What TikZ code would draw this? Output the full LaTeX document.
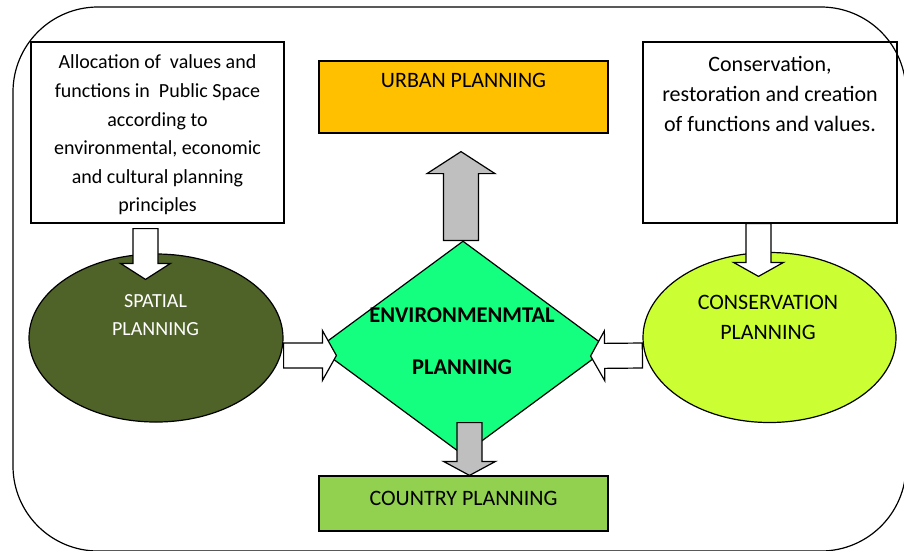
\documentclass[tikz,border=0pt]{standalone}
\usepackage{fontspec}
\setmainfont{Carlito}
\usetikzlibrary{calc,shapes.geometric}
\definecolor{urbanorange}{HTML}{FFC000}
\definecolor{countrygreen}{HTML}{92D050}
\definecolor{spatialolive}{HTML}{4F6228}
\definecolor{conslime}{HTML}{CCFF33}
\definecolor{envgreen}{HTML}{14FF80}
\definecolor{arrowgray}{HTML}{BFBFBF}
\begin{document}
\begin{tikzpicture}[x=1pt,y=-1pt,
  every node/.style={font=\fontsize{22}{30}\selectfont, inner sep=0pt},
  box/.style={draw, line width=1.2pt, rectangle},
  blob/.style={draw, line width=1.2pt, ellipse},
  bshaft/.store in=\bshaft, bhead/.store in=\bhead, blen/.store in=\blen,
  bshaft=12.5pt, bhead=25pt, blen=14pt,
  fatarrow/.style={line width=1.2pt, to path={
    ($(\tikztostart)!\bshaft!90:(\tikztotarget)$)
    -- ($($(\tikztotarget)!\blen!(\tikztostart)$)!\bshaft!-90:(\tikztostart)$)
    -- ($($(\tikztotarget)!\blen!(\tikztostart)$)!\bhead!-90:(\tikztostart)$)
    -- (\tikztotarget)
    -- ($($(\tikztotarget)!\blen!(\tikztostart)$)!\bhead!90:(\tikztostart)$)
    -- ($($(\tikztotarget)!\blen!(\tikztostart)$)!\bshaft!90:(\tikztostart)$)
    -- ($(\tikztostart)!\bshaft!-90:(\tikztotarget)$) -- cycle}}]
  \useasboundingbox (0,0) rectangle (904,550);
  \draw[line width=1.2pt, rounded corners=85pt] (13,7) rectangle (906,551);

  \node[box, minimum width=253pt, minimum height=181pt] (alloc) at (157.5,132.5) {};
  \node[align=center, font=\fontsize{20}{28.6}\selectfont] (alloctext) at (157.5,135)
    {Allocation of\ \ values and\\functions in\ \ Public Space\\according to\\environmental, economic\\and cultural planning\\principles};
  \node[box, minimum width=254pt, minimum height=181pt] (consbox) at (770,132.5) {};
  \node[align=center] (consboxtext) at (770,93.5)
    {Conservation,\\restoration and creation\\of functions and values.};

  \node[box, fill=urbanorange, minimum width=289pt, minimum height=72pt] (urban) at (463.5,97) {};
  \node (urbantext) at (463.5,80.5) {URBAN PLANNING};
  \node[box, fill=countrygreen, minimum width=289pt, minimum height=55pt] (country) at (463.5,503.5) {};
  \node (countrytext) at (463.5,498) {COUNTRY PLANNING};

  \node[blob, fill=spatialolive, minimum width=254pt, minimum height=168pt] (spatial) at (156,338) {};
  \node[align=center, text=white, font=\fontsize{20}{28}\selectfont] (spatialtext) at (155.5,315) {SPATIAL\\PLANNING};
  \node[blob, fill=conslime, minimum width=253pt, minimum height=170pt] (cons) at (769.5,337.5) {};
  \node[align=center] (constext) at (768,317) {CONSERVATION\\PLANNING};

  \node[diamond, draw, line width=1.2pt, fill=envgreen, minimum width=290pt, minimum height=214pt] (env) at (463,348) {};
  \node[align=center, font=\bfseries\fontsize{22.5}{30}\selectfont] (envtext) at (462,341) {ENVIRONMENMTAL\\[22pt]PLANNING};

  \filldraw[fatarrow, fill=white, blen=16pt] ([shift={(-12pt,-5pt)}]alloc.south) to ([shift={(-10.5pt,-26pt)}]spatial.north);
  \filldraw[fatarrow, fill=white] ([xshift=-11.5pt]consbox.south) to ([shift={(-11pt,-24.5pt)}]cons.north);
  \filldraw[fatarrow, fill=white] ([yshift=-17.5pt]spatial.east) to ([shift={(19pt,-7.5pt)}]env.west);
  \filldraw[fatarrow, fill=white] ([yshift=-18pt]cons.west) to ([shift={(-18pt,-8pt)}]env.east);
  \filldraw[fatarrow, fill=arrowgray, bshaft=17.5pt, bhead=34pt, blen=22pt] ([xshift=-2pt]env.north) to ([shift={(-2.5pt,-18pt)}]urban.south);
  \filldraw[fatarrow, fill=arrowgray, bhead=26pt] ([shift={(6.5pt,33pt)}]env.south) to ([xshift=6pt]country.north);
\end{tikzpicture}
\end{document}
